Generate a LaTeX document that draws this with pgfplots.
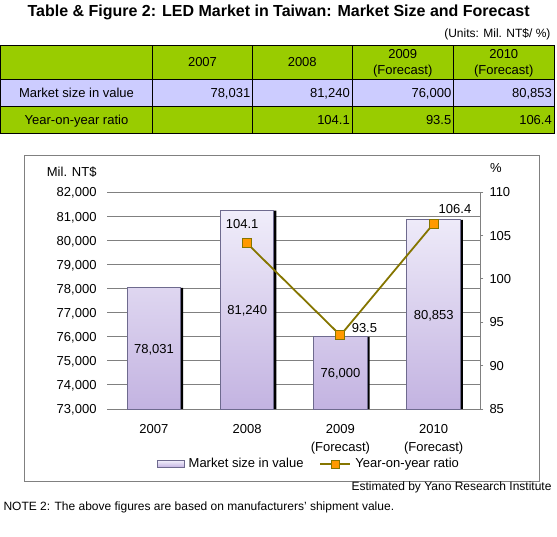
\documentclass[border=0pt]{standalone}
\usepackage{pgfplots}
\usepackage{pgfplotstable}
\pgfplotsset{compat=1.18}
\usepackage{fontspec}
\setmainfont{Liberation Sans}
\definecolor{tgreen}{HTML}{99CC00}
\definecolor{tlav}{HTML}{CCCCFF}
\definecolor{bartop}{HTML}{F0EDFA}
\definecolor{barbot}{HTML}{C3B3E1}
\definecolor{baredge}{HTML}{6E6A8E}
\definecolor{olivel}{HTML}{857500}
\definecolor{orangem}{HTML}{FF9900}
\definecolor{gridc}{HTML}{808080}
\newcommand{\fs}[1]{\fontsize{#1}{#1}\selectfont}
\pgfplotsset{
  barleg/.style={legend image code/.code={\draw[##1] (0pt,-3.3pt) rectangle (27pt,3.3pt);}},
  lineleg/.style={legend image code/.code={\draw[mark repeat=2,mark phase=2,##1] plot coordinates {(0pt,0pt) (15pt,0pt) (30pt,0pt)};}},
}
\pgfplotstableread{
x val
0 78031
1 81240
2 76000
3 80853
}\mkt
\pgfplotstableread{
x ratio
1 104.1
2 93.5
3 106.4
}\yoy
\tikzset{cell/.style={font=\fs{13}, inner sep=0pt, text height=9.3pt, text depth=0pt}}
\begin{document}
\begin{tikzpicture}
\useasboundingbox (0,0) rectangle (557pt,-536pt);
% title
\node[font=\bfseries\fs{16}, inner sep=0pt] at (278.6pt,-12pt) {Table \& Figure 2: LED Market in Taiwan: Market Size and Forecast};
\node[font=\fs{12}, anchor=east, inner sep=0pt] at (550.7pt,-34.7pt) {(Units: Mil. NT\$/ \%)};
% table
\fill[tgreen] (0.5pt,-45pt) rectangle (554pt,-79pt);
\fill[tlav] (0.5pt,-79pt) rectangle (554pt,-106pt);
\fill[tgreen] (0.5pt,-106pt) rectangle (554pt,-133pt);
\draw[line width=1pt] (0.5pt,-45pt) rectangle (554pt,-133pt);
\draw[line width=1pt] (0.5pt,-79pt) -- (554pt,-79pt) (0.5pt,-106pt) -- (554pt,-106pt);
\foreach \cx in {152.5,252.5,352,453.5} \draw[line width=1pt] (\cx pt,-45pt) -- (\cx pt,-133pt);
\node[cell] at (202.5pt,-62pt) {2007};
\node[cell] at (302.25pt,-62pt) {2008};
\node[font=\fontsize{13}{16}\selectfont, align=center, inner sep=0pt] at (402.75pt,-63pt) {2009\\(Forecast)};
\node[font=\fontsize{13}{16}\selectfont, align=center, inner sep=0pt] at (503.75pt,-63pt) {2010\\(Forecast)};
\node[cell] at (76.5pt,-92.5pt) {Market size in value};
\node[cell, anchor=east] at (250.5pt,-92.5pt) {78,031};
\node[cell, anchor=east] at (350pt,-92.5pt) {81,240};
\node[cell, anchor=east] at (451.5pt,-92.5pt) {76,000};
\node[cell, anchor=east] at (552pt,-92.5pt) {80,853};
\node[cell] at (76.5pt,-119.5pt) {Year-on-year ratio};
\node[cell, anchor=east] at (350pt,-119.5pt) {104.1};
\node[cell, anchor=east] at (451.5pt,-119.5pt) {93.5};
\node[cell, anchor=east] at (552pt,-119.5pt) {106.4};
% chart frame
\draw[gridc, line width=1pt] (24pt,-155pt) rectangle (539.3pt,-481pt);
\node[cell, anchor=east] at (96.7pt,-172pt) {Mil. NT\$};
\node[cell] at (496pt,-168pt) {\%};
% primary axis
\begin{axis}[
  at={(107.3pt,-409pt)}, anchor=south west, scale only axis,
  width=373pt, height=216.7pt,
  xmin=-0.5, xmax=3.5, ymin=73000, ymax=82000,
  axis line style={draw=none},
  ytick={73000,74000,75000,76000,77000,78000,79000,80000,81000,82000},
  scaled y ticks=false,
  ymajorgrids, grid style={gridc, line width=1pt},
  major tick length=0pt,
  xtick={0,1,2,3},
  xticklabels={2007,2008,{2009\\(Forecast)},{2010\\(Forecast)}},
  xticklabel style={align=center, anchor=north, font=\fontsize{13}{18}\selectfont, inner sep=0pt, yshift=-15pt},
  yticklabel style={anchor=east, inner sep=0pt, xshift=-10.6pt, font=\fs{13}, text height=9.3pt, text depth=0pt,
    /pgf/number format/.cd, fixed, precision=0, 1000 sep={,}},
  /pgf/number format/assume math mode=true,
  clip=true,
]
\addplot[ybar, bar width=2.6pt, bar shift=27.9pt, fill=black, draw=none] table[x=x,y=val] {\mkt};
\addplot[ybar, bar width=53.4pt, bar shift=0pt, draw=baredge, line width=1pt, top color=bartop, bottom color=barbot] table[x=x,y=val] {\mkt};
\addplot[draw=none, nodes near coords, point meta=explicit symbolic,
  every node near coord/.append style={anchor=center, font=\fs{13}, inner sep=0pt, text height=9.3pt, text depth=0pt}]
  coordinates {(0,75515.5) [78,031] (1,77120) [81,240] (2,74500) [76,000] (3,76926.5) [80,853]};
\end{axis}
% secondary axis
\begin{axis}[
  at={(107.3pt,-409pt)}, anchor=south west, scale only axis,
  width=373pt, height=216.7pt,
  xmin=-0.5, xmax=3.5, ymin=85, ymax=110,
  axis x line=none, axis y line*=right,
  y axis line style={gridc, line width=1pt, -},
  xtick=\empty,
  ytick={85,90,95,100,105,110},
  ytick style={gridc, line width=1pt},
  major tick length=3pt, tick align=outside,
  yticklabel style={anchor=west, inner sep=0pt, xshift=6pt, font=\fs{13}, text height=9.3pt, text depth=0pt},
  /pgf/number format/assume math mode=true,
  legend style={at={(0.1324,-0.2538)}, anchor=west, draw=none, fill=none, inner sep=0pt, outer sep=0pt,
    font=\fs{13}, nodes={inner sep=0pt}, legend columns=2,
    /tikz/every odd column/.append style={column sep=4pt},
    /tikz/every even column/.append style={column sep=16pt}},
  legend cell align=left,
]
\addlegendimage{barleg, draw=baredge, line width=1pt, top color=bartop, bottom color=barbot}
\addlegendentry{Market size in value}
\addlegendimage{lineleg, olivel, line width=1.8pt, mark=square*, mark size=4pt, mark options={fill=orangem, draw=olivel, line width=1pt}}
\addlegendentry{Year-on-year ratio}
\addplot[forget plot, olivel, line width=1.8pt, mark=square*, mark size=4.5pt, mark options={fill=orangem, draw=olivel, line width=1pt}] table[x=x,y=ratio] {\yoy};
\addplot[forget plot, draw=none, nodes near coords, point meta=explicit symbolic,
  every node near coord/.append style={anchor=center, font=\fs{13}, inner sep=0pt, text height=9.3pt, text depth=0pt, xshift=-5pt, yshift=20pt}]
  coordinates {(1,104.1) [104.1]};
\addplot[forget plot, draw=none, nodes near coords, point meta=explicit symbolic,
  every node near coord/.append style={anchor=center, font=\fs{13}, inner sep=0pt, text height=9.3pt, text depth=0pt, xshift=24pt, yshift=7.3pt}]
  coordinates {(2,93.5) [93.5]};
\addplot[forget plot, draw=none, nodes near coords, point meta=explicit symbolic,
  every node near coord/.append style={anchor=center, font=\fs{13}, inner sep=0pt, text height=9.3pt, text depth=0pt, xshift=21.3pt, yshift=14.5pt}]
  coordinates {(3,106.4) [106.4]};
\end{axis}
\node[font=\fs{12}, anchor=east, inner sep=0pt] at (551.7pt,-487.3pt) {Estimated by Yano Research Institute};
\node[font=\fs{12}, anchor=west, inner sep=0pt] at (3.3pt,-507pt) {NOTE 2: The above figures are based on manufacturers' shipment value.};
\end{tikzpicture}
\end{document}
